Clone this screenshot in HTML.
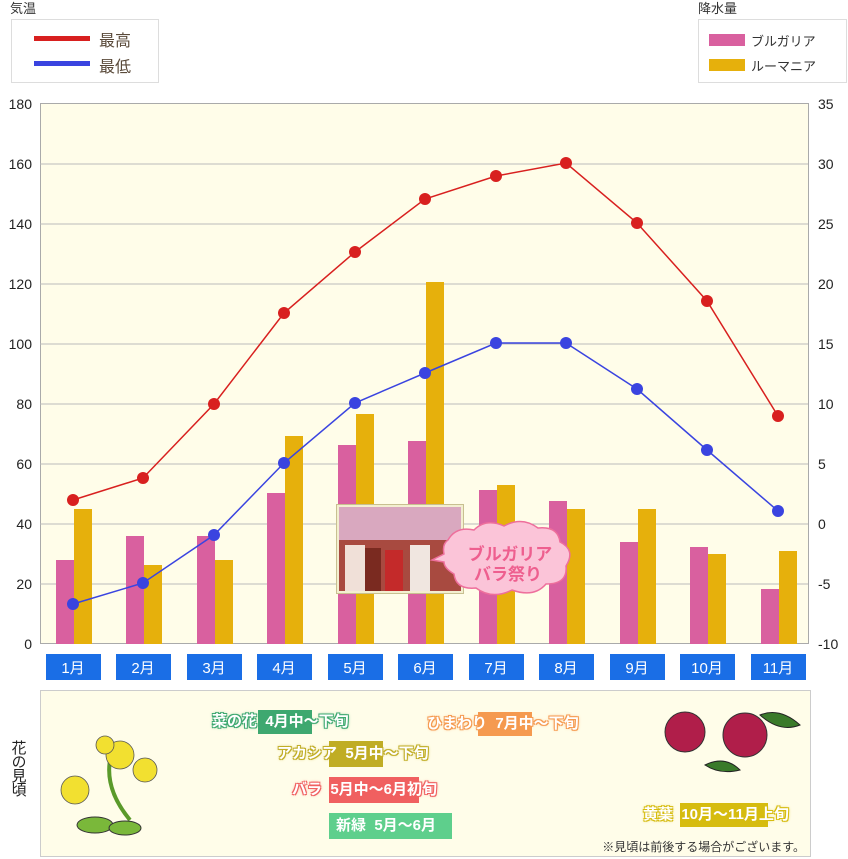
<!DOCTYPE html>
<html><head><meta charset="utf-8"><style>
body{margin:0;background:#fff;width:848px;height:859px;overflow:hidden;font-family:"Liberation Sans","Noto Sans CJK JP",sans-serif}
svg text{font-family:"Liberation Sans","Noto Sans CJK JP",sans-serif}
.lb{position:absolute;font-size:15px;font-weight:bold;color:#fff;height:24px;line-height:24px;white-space:nowrap}
</style></head><body>
<div style="position:relative;width:848px;height:859px">
<svg width="848" height="859" style="position:absolute;left:0;top:0">
<text x="10" y="13" font-size="13" fill="#333">気温</text>
<rect x="11.5" y="19.5" width="147" height="63" fill="#fff" stroke="#ddd"/>
<rect x="34" y="36" width="56" height="5" fill="#d8201f"/>
<rect x="34" y="61" width="56" height="5" fill="#3a44e0"/>
<text x="99" y="46" font-size="16" fill="#5a4a3a">最高</text>
<text x="99" y="72" font-size="16" fill="#5a4a3a">最低</text>
<text x="698" y="13" font-size="13" fill="#333">降水量</text>
<rect x="698.5" y="19.5" width="148" height="63" fill="#fff" stroke="#ddd"/>
<rect x="709" y="34" width="36" height="12" fill="#d9609f"/>
<rect x="709" y="59" width="36" height="12" fill="#e6b00c"/>
<text x="751" y="46" font-size="13" fill="#333">ブルガリア</text>
<text x="751" y="71" font-size="13" fill="#333">ルーマニア</text>
<rect x="40.5" y="103.5" width="768" height="540" fill="#fffde9" stroke="#aaa"/>
<g stroke="#bbb" stroke-width="1">
<line x1="40" y1="164" x2="808" y2="164"/><line x1="40" y1="224" x2="808" y2="224"/><line x1="40" y1="284" x2="808" y2="284"/><line x1="40" y1="344" x2="808" y2="344"/><line x1="40" y1="404" x2="808" y2="404"/><line x1="40" y1="464" x2="808" y2="464"/><line x1="40" y1="524" x2="808" y2="524"/><line x1="40" y1="584" x2="808" y2="584"/>
</g>
<g font-size="14" fill="#222" text-anchor="end">
<text x="32" y="109">180</text><text x="32" y="169">160</text><text x="32" y="229">140</text><text x="32" y="289">120</text><text x="32" y="349">100</text><text x="32" y="409">80</text><text x="32" y="469">60</text><text x="32" y="529">40</text><text x="32" y="589">20</text><text x="32" y="649">0</text>
</g>
<g font-size="14" fill="#222" text-anchor="start">
<text x="818" y="109">35</text><text x="818" y="169">30</text><text x="818" y="229">25</text><text x="818" y="289">20</text><text x="818" y="349">15</text><text x="818" y="409">10</text><text x="818" y="469">5</text><text x="818" y="529">0</text><text x="818" y="589">-5</text><text x="818" y="649">-10</text>
</g>
<g fill="#d9609f">
<rect x="56" y="560" width="18" height="84"/><rect x="126" y="536" width="18" height="108"/><rect x="197" y="536" width="18" height="108"/><rect x="267" y="493" width="18" height="151"/><rect x="338" y="445" width="18" height="199"/><rect x="408" y="441" width="18" height="203"/><rect x="479" y="490" width="18" height="154"/><rect x="549" y="501" width="18" height="143"/><rect x="620" y="542" width="18" height="102"/><rect x="690" y="547" width="18" height="97"/><rect x="761" y="589" width="18" height="55"/>
</g>
<g fill="#e6b00c">
<rect x="74" y="509" width="18" height="135"/><rect x="144" y="565" width="18" height="79"/><rect x="215" y="560" width="18" height="84"/><rect x="285" y="436" width="18" height="208"/><rect x="356" y="414" width="18" height="230"/><rect x="426" y="282" width="18" height="362"/><rect x="497" y="485" width="18" height="159"/><rect x="567" y="509" width="18" height="135"/><rect x="638" y="509" width="18" height="135"/><rect x="708" y="554" width="18" height="90"/><rect x="779" y="551" width="18" height="93"/>
</g>
<polyline fill="none" stroke="#d8201f" stroke-width="1.5" points="73,500 143,478 214,404 284,313 355,252 425,199 496,176 566,163 637,223 707,301 778,416"/>
<g fill="#d8201f"><circle cx="73" cy="500" r="6"/><circle cx="143" cy="478" r="6"/><circle cx="214" cy="404" r="6"/><circle cx="284" cy="313" r="6"/><circle cx="355" cy="252" r="6"/><circle cx="425" cy="199" r="6"/><circle cx="496" cy="176" r="6"/><circle cx="566" cy="163" r="6"/><circle cx="637" cy="223" r="6"/><circle cx="707" cy="301" r="6"/><circle cx="778" cy="416" r="6"/></g>
<polyline fill="none" stroke="#3a44e0" stroke-width="1.5" points="73,604 143,583 214,535 284,463 355,403 425,373 496,343 566,343 637,389 707,450 778,511"/>
<g fill="#3a44e0"><circle cx="73" cy="604" r="6"/><circle cx="143" cy="583" r="6"/><circle cx="214" cy="535" r="6"/><circle cx="284" cy="463" r="6"/><circle cx="355" cy="403" r="6"/><circle cx="425" cy="373" r="6"/><circle cx="496" cy="343" r="6"/><circle cx="566" cy="343" r="6"/><circle cx="637" cy="389" r="6"/><circle cx="707" cy="450" r="6"/><circle cx="778" cy="511" r="6"/></g>
<!-- photo -->
<rect x="336.5" y="504.5" width="127" height="89" fill="#f3efd0" stroke="#c8c090"/>
<rect x="339" y="507" width="122" height="84" fill="#d9a8bf"/>
<rect x="339" y="540" width="122" height="51" fill="#a84a40"/>
<rect x="345" y="545" width="20" height="46" fill="#f0e0d8"/><rect x="385" y="550" width="18" height="41" fill="#c42a2a"/><rect x="410" y="545" width="20" height="46" fill="#f0e6e0"/><rect x="365" y="548" width="16" height="43" fill="#7a2a20"/>
<path d="M448 540 q8-14 26-10 q12-12 30-4 q18-10 34 2 q20-2 22 14 q16 8 6 24 q2 18-20 18 q-12 14-34 6 q-20 10-36-2 q-20 2-22-14 q-10-6-10-12 l-12 -2 l12-6 q-2-10 4-14z" fill="#fbc4d8" stroke="#ee6f9c" stroke-width="1.5"/>
<text x="510" y="560" font-size="17" font-weight="bold" fill="#ee5f8f" text-anchor="middle">ブルガリア</text>
<text x="508" y="580" font-size="17" font-weight="bold" fill="#ee5f8f" text-anchor="middle">バラ祭り</text>
<!-- months -->
<g fill="#1a6ee6">
<rect x="46" y="654" width="55" height="26"/><rect x="116" y="654" width="55" height="26"/><rect x="187" y="654" width="55" height="26"/><rect x="257" y="654" width="55" height="26"/><rect x="328" y="654" width="55" height="26"/><rect x="398" y="654" width="55" height="26"/><rect x="469" y="654" width="55" height="26"/><rect x="539" y="654" width="55" height="26"/><rect x="610" y="654" width="55" height="26"/><rect x="680" y="654" width="55" height="26"/><rect x="751" y="654" width="55" height="26"/>
</g>
<g font-size="15" fill="#fff" text-anchor="middle">
<text x="73" y="673">1月</text><text x="143" y="673">2月</text><text x="214" y="673">3月</text><text x="284" y="673">4月</text><text x="355" y="673">5月</text><text x="425" y="673">6月</text><text x="496" y="673">7月</text><text x="566" y="673">8月</text><text x="637" y="673">9月</text><text x="707" y="673">10月</text><text x="778" y="673">11月</text>
</g>
<rect x="40.5" y="690.5" width="770" height="166" fill="#fffde9" stroke="#ccc"/>
<text x="18" y="740" font-size="15" fill="#222" writing-mode="tb" letter-spacing="-1">花の見頃</text>
<!-- flowers -->
<path d="M110 760 q-5 30 20 60" stroke="#5a9a2a" stroke-width="4" fill="none"/>
<ellipse cx="95" cy="825" rx="18" ry="8" fill="#7ab83a" stroke="#333"/><ellipse cx="125" cy="828" rx="16" ry="7" fill="#7ab83a" stroke="#333"/>
<g fill="#f2e030" stroke="#555" stroke-width="0.8"><circle cx="75" cy="790" r="14"/><circle cx="120" cy="755" r="14"/><circle cx="145" cy="770" r="12"/><circle cx="105" cy="745" r="9"/></g>
<g fill="#b01e4a" stroke="#333"><circle cx="745" cy="735" r="22"/><circle cx="685" cy="732" r="20"/></g>
<path d="M760 715 q20-8 40 10 q-20 8-40-10z M705 765 q15 10 35 5 q-15-15-35-5z" fill="#3a7a2a" stroke="#222"/>
<text x="805" y="851" font-size="12" fill="#333" text-anchor="end">※見頃は前後する場合がございます。</text>
</svg>
<div class="lb" style="left:258px;top:710px;width:54px;background:#3ea870"></div>
<div class="lb" style="left:212px;top:710px;text-shadow:1px 1px 0 #3ea870,-1px -1px 0 #3ea870,1px -1px 0 #3ea870,-1px 1px 0 #3ea870,0 0 3px #3ea870">菜の花&nbsp;&nbsp;4月中～下旬</div>
<div class="lb" style="left:478px;top:712px;width:54px;background:#f59a50"></div>
<div class="lb" style="left:427px;top:712px;text-shadow:1px 1px 0 #f59a50,-1px -1px 0 #f59a50,1px -1px 0 #f59a50,-1px 1px 0 #f59a50,0 0 3px #f59a50">ひまわり&nbsp;&nbsp;7月中～下旬</div>
<div class="lb" style="left:329px;top:741px;width:54px;height:26px;background:#c0ad25"></div>
<div class="lb" style="left:277px;top:742px;text-shadow:1px 1px 0 #c0ad25,-1px -1px 0 #c0ad25,1px -1px 0 #c0ad25,-1px 1px 0 #c0ad25,0 0 3px #c0ad25">アカシア&nbsp;&nbsp;5月中～下旬</div>
<div class="lb" style="left:329px;top:777px;width:90px;height:26px;background:#f06060"></div>
<div class="lb" style="left:292px;top:778px;text-shadow:1px 1px 0 #f06060,-1px -1px 0 #f06060,1px -1px 0 #f06060,-1px 1px 0 #f06060,0 0 3px #f06060">バラ&nbsp;&nbsp;5月中～6月初旬</div>
<div class="lb" style="left:329px;top:813px;width:123px;height:26px;background:#5ecf8c"></div>
<div class="lb" style="left:336px;top:814px">新緑&nbsp;&nbsp;5月～6月</div>
<div class="lb" style="left:680px;top:803px;width:88px;background:#d6bc10"></div>
<div class="lb" style="left:643px;top:803px;text-shadow:1px 1px 0 #d6bc10,-1px -1px 0 #d6bc10,1px -1px 0 #d6bc10,-1px 1px 0 #d6bc10,0 0 3px #d6bc10">黄葉&nbsp;&nbsp;10月～11月上旬</div>
</div>
</body></html>
